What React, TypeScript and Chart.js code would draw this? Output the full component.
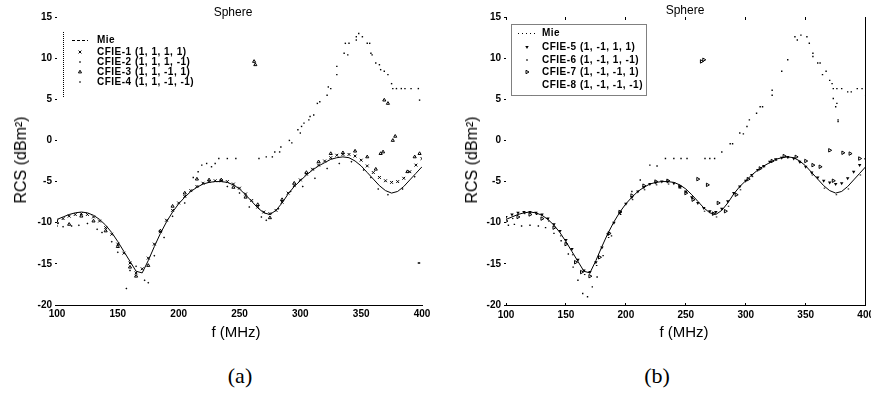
import React, { useEffect, useRef } from 'react';
import { Chart, registerables } from 'chart.js';
import { drawPoint } from 'chart.js/helpers';

Chart.register(...registerables);

// ---------- axes ----------
const X_MIN = 100;
const X_MAX = 400;
const X_STEP = 50;
const Y_MIN = -20;
const Y_MAX = 15;
const Y_STEP = 5;

// ---------- Mie reference (same sphere in both panels) ----------
const sweepFreq = [
  100, 105, 110, 115, 120, 125, 130, 135, 140, 145, 150, 155, 160, 165, 170, 175, 180, 185, 190, 195,
  200, 205, 210, 215, 220, 225, 230, 235, 240, 245, 250, 255, 260, 265, 270, 275, 280, 285, 290, 295,
  300, 305, 310, 315, 320, 325, 330, 335, 340, 345, 350, 355, 360, 365, 370, 375, 380, 385, 390, 395, 400,
];
const mieRcs = [
  -9.6, -9.3, -9.0, -8.8, -8.7, -8.8, -9.1, -9.6, -10.3, -11.2, -12.3, -13.5, -14.7, -15.9, -16.1, -14.6, -12.9, -11.3, -9.9, -8.7,
  -7.7, -6.9, -6.2, -5.7, -5.3, -5.1, -5.0, -5.0, -5.1, -5.4, -5.9, -6.6, -7.4, -8.2, -8.8, -9.0, -8.5, -7.6, -6.5, -5.6,
  -4.9, -4.2, -3.6, -3.1, -2.7, -2.3, -2.1, -2.0, -2.1, -2.5, -3.1, -3.9, -4.7, -5.5, -6.1, -6.4, -6.2, -5.6, -4.8, -4.0, -3.2,
];

// ---------- panel (a) ----------
const cfie1Rcs = [
  -9.8, -9.5, -9.2, -9.0, -8.9, -9.0, -9.3, -9.8, -10.6, -11.4, -12.6, -13.7, -14.9, -16.1, -15.6, -14.3, -12.6, -11.1, -9.7, -8.5,
  -7.6, -6.8, -6.1, -5.6, -5.2, -5.0, -4.9, -4.9, -5.0, -5.3, -5.8, -6.5, -7.3, -8.1, -8.7, -8.9, -8.5, -7.5, -6.4, -5.5,
  -4.8, -4.1, -3.5, -3.0, -2.5, -2.1, -1.8, -1.7, -1.7, -1.9, -2.4, -3.1, -3.9, -4.5, -4.9, -5.1, -5.0, -4.6, -3.8, -3.0, -2.2,
];

const cfie2Freq = [
  212, 216, 219, 223, 227, 230, 233, 240, 247, 266, 272, 277, 279, 283, 284, 291, 293, 298, 300, 301,
  303, 307, 308, 311, 314, 316, 322, 323, 325, 330, 330, 336, 339, 337, 340, 346, 348, 351, 346, 355,
  357, 358, 359, 362, 365, 366, 369, 372, 375, 376, 379, 383, 386, 391, 397, 398,
];
const cfie2Rcs = [
  -4.5, -3.8, -3.0, -2.8, -3.2, -2.8, -2.2, -2.2, -2.2, -2.2, -2.0, -2.0, -1.4, -1.4, -0.8, 0.0, -0.3, 1.3, 0.9, 1.7,
  2.1, 2.5, 2.9, 3.1, 4.5, 4.7, 5.5, 6.5, 6.3, 8.0, 9.0, 10.6, 10.4, 11.8, 11.8, 12.6, 13.0, 12.6, 12.2, 11.8,
  11.8, 10.6, 10.4, 9.4, 9.2, 8.6, 8.4, 8.0, 6.9, 6.3, 6.3, 6.3, 6.3, 6.3, 6.3, 4.9,
];

const cfie3Freq = [
  100, 110, 120, 130, 140, 150, 160, 165, 175, 185, 195, 205, 215, 225, 235, 245, 255, 262, 263, 265,
  275, 285, 295, 305, 315, 325, 335, 345, 355, 362, 366, 368, 369, 372, 376, 378, 388, 394, 398,
];
const cfie3Rcs = [
  -10.0, -10.2, -9.2, -9.8, -11.0, -12.9, -15.4, -16.5, -15.2, -11.0, -8.0, -6.4, -4.7, -4.8, -4.8, -5.7, -6.9, 9.6, 9.2, -7.8,
  -9.4, -7.2, -5.2, -3.9, -2.6, -1.6, -1.5, -1.3, -2.0, -3.5, -1.6, -1.4, 4.9, 4.5, 0.0, 0.5, -3.8, -2.0, -1.6,
];

const cfie4Freq = [
  100, 105, 112, 118, 125, 133, 137, 145, 150, 157, 160, 165, 172, 175, 180, 188, 195, 205, 240, 250,
  258, 268, 272, 282, 292, 302, 312, 322, 332, 342, 352, 358, 364, 372, 384, 394, 397, 398,
];
const cfie4Rcs = [
  -10.4, -10.5, -10.4, -10.3, -10.1, -10.8, -11.2, -12.3, -13.6, -18.0, -15.8, -15.3, -17.0, -17.3, -14.0, -11.8, -9.2, -7.6, -5.6, -6.4,
  -8.1, -9.3, -9.7, -8.3, -6.2, -5.6, -4.6, -3.4, -2.8, -2.6, -3.6, -4.5, -5.9, -6.6, -5.9, -4.4, -14.9, -14.9,
];

// ---------- panel (b) ----------
const cfie5Rcs = [
  -9.3, -9.0, -8.8, -8.7, -8.7, -8.8, -9.0, -9.5, -10.2, -11.0, -12.1, -13.2, -14.5, -15.8, -16.0, -14.8, -13.0, -11.4, -10.0, -8.8,
  -7.7, -6.9, -6.2, -5.7, -5.3, -5.1, -5.0, -5.0, -5.2, -5.6, -6.2, -6.9, -7.6, -8.2, -8.6, -8.7, -8.3, -7.4, -6.4, -5.6,
  -4.9, -4.2, -3.6, -3.1, -2.6, -2.3, -2.1, -2.0, -2.2, -2.6, -3.2, -3.9, -4.5, -4.9, -5.1, -5.3, -5.2, -4.6, -3.8, -3.0, -2.3,
];

const cfie6Freq = [
  102, 107, 113, 120, 127, 133, 140, 146, 152, 156, 160, 164, 168, 172, 176, 181, 188, 196, 205, 212,
  220, 226, 233, 240, 246, 251, 266, 270, 274, 280, 287, 289, 295, 298, 301, 303, 309, 312, 314, 322,
  322, 330, 335, 341, 343, 346, 351, 353, 356, 356, 360, 362, 364, 367, 370, 372, 373, 376, 380, 385,
  388, 393, 397, 400, 373, 375, 376, 377, 377,
];
const cfie6Rcs = [
  -10.3, -10.2, -10.4, -10.3, -10.4, -10.6, -11.3, -12.2, -13.8, -15.4, -17.0, -18.6, -19.0, -17.8, -16.6, -14.0, -11.6, -8.6, -6.2, -4.8,
  -3.0, -3.1, -2.2, -2.2, -2.2, -2.2, -2.2, -2.2, -2.2, -1.4, -0.4, -0.4, 0.9, 0.8, 1.7, 2.5, 3.3, 4.1, 4.1, 6.1,
  5.5, 8.4, 9.8, 12.6, 12.2, 12.8, 12.6, 11.8, 10.6, 10.2, 9.4, 9.4, 8.0, 8.4, 7.3, 6.9, 6.3, 6.3, 6.3, 5.9,
  5.9, 6.3, 6.3, 5.5, 5.1, 4.1, 4.5, 2.5, 2.3,
];

const cfie7Freq = [
  100, 110, 120, 130, 140, 150, 158, 163, 170, 178, 186, 195, 205, 215, 225, 235, 245, 250, 256, 260,
  263, 265, 268, 273, 277, 283, 292, 302, 312, 322, 332, 342, 350, 356, 362, 370, 373, 381, 387, 395,
];
const cfie7Rcs = [
  -9.8, -9.3, -9.0, -9.5, -10.6, -12.6, -14.8, -16.0, -16.5, -14.2, -11.3, -8.7, -6.7, -5.5, -5.0, -4.9, -5.6, -6.4, -7.2, -4.7,
  9.6, 9.8, -5.4, -8.9, -7.6, -8.6, -6.6, -4.7, -3.4, -2.5, -1.9, -2.0, -2.5, -3.0, -3.2, -1.2, -4.9, -1.5, -1.6, -2.2,
];

const cfie8Freq = [
  105, 115, 125, 135, 145, 155, 165, 175, 185, 195, 205, 215, 225, 235, 245, 255, 265, 275, 285, 295,
  305, 315, 325, 335, 345, 355, 365, 375, 385, 395,
];
const cfie8Rcs = [
  -9.5, -8.9, -9.0, -9.8, -11.6, -13.9, -16.3, -15.2, -11.8, -9.0, -7.2, -6.0, -5.4, -5.3, -5.8, -7.0, -8.6, -9.3, -8.0, -6.0,
  -4.4, -3.2, -2.4, -2.1, -2.7, -4.2, -5.8, -6.6, -5.9, -4.2,
];

// ---------- text ----------
const TITLE = 'Sphere';
const X_TITLE = 'f (MHz)';
const Y_TITLE = 'RCS (dBm²)';
const LABELS_A = ['Mie', 'CFIE-1 (1, 1, 1, 1)', 'CFIE-2 (1, 1, 1, -1)', 'CFIE-3 (1, 1, -1, 1)', 'CFIE-4 (1, 1, -1, -1)'];
const LABELS_B = ['Mie', 'CFIE-5 (1, -1, 1, 1)', 'CFIE-6 (1, -1, 1, -1)', 'CFIE-7 (1, -1, -1, 1)', 'CFIE-8 (1, -1, -1, -1)'];

const pts = (xs: number[], ys: number[]) => xs.map((x, i) => ({ x, y: ys[i] }));

const FONT = "'Liberation Sans', Arial, sans-serif";
const INK = '#000';

const legendPlugin = {
  id: 'panelLegend',
  afterDraw(chart: any, _args: any, o: any) {
    if (!o || !o.rows) return;
    const ctx = chart.ctx as CanvasRenderingContext2D;
    ctx.save();
    ctx.strokeStyle = INK;
    ctx.fillStyle = INK;
    ctx.lineWidth = 1;
    if (o.frame === 'box') {
      ctx.setLineDash([1, 1]);
      ctx.strokeRect(o.boxX + 0.5, o.boxY + 0.5, o.boxW, o.boxH);
    } else {
      ctx.setLineDash([1, 1]);
      ctx.beginPath();
      ctx.moveTo(o.frameX + 0.5, o.frameTop);
      ctx.lineTo(o.frameX + 0.5, o.frameBottom);
      ctx.stroke();
    }
    ctx.font = `bold 10px ${FONT}`;
    (ctx as any).letterSpacing = '0.5px';
    ctx.textBaseline = 'middle';
    chart.data.datasets.forEach((ds: any, i: number) => {
      const y = o.rows[i];
      if (ds.showLine) {
        ctx.setLineDash(o.mieDash);
        ctx.beginPath();
        ctx.moveTo(o.lineX0, y + 0.5);
        ctx.lineTo(o.lineX1, y + 0.5);
        ctx.stroke();
      } else if (!ds.hideLegendMarker) {
        ctx.setLineDash([]);
        ctx.fillStyle = ds.backgroundColor || INK;
        ctx.strokeStyle = ds.borderColor || INK;
        drawPoint(ctx, {
          pointStyle: ds.pointStyle,
          radius: ds.pointRadius,
          rotation: ds.rotation || 0,
          borderWidth: ds.borderWidth ?? 1,
        } as any, o.markerX, y);
      }
      ctx.fillStyle = INK;
      ctx.fillText(ds.label, o.textX, y);
    });
    ctx.restore();
  },
};

function makeScales(framed: boolean, yWidth: number) {
  const tickFont = { family: FONT, size: 10, weight: 'bold' as const };
  const scales: any = {
    x: {
      type: 'linear',
      position: 'bottom',
      min: X_MIN,
      max: X_MAX,
      afterFit: (s: any) => { s.height = 40; },
      ticks: { stepSize: X_STEP, font: tickFont, color: INK, padding: framed ? 6 : 3, maxRotation: 0, autoSkip: false },
      grid: { display: true, drawOnChartArea: false, drawTicks: framed, tickLength: framed ? -2 : 0, color: INK },
      border: { display: true, color: INK, dash: [1, 1], width: 1 },
    },
    y: {
      type: 'linear',
      position: 'left',
      min: Y_MIN,
      max: Y_MAX,
      afterFit: (s: any) => { s.width = yWidth; },
      ticks: { stepSize: Y_STEP, font: tickFont, color: INK, padding: 3 },
      grid: { display: true, drawOnChartArea: false, drawTicks: true, tickLength: 2, color: INK },
      border: { display: false },
    },
  };
  if (framed) {
    scales.xTop = {
      type: 'linear',
      position: 'top',
      display: true,
      min: X_MIN,
      max: X_MAX,
      afterFit: (s: any) => { s.height = 0; },
      ticks: { stepSize: X_STEP, display: false },
      grid: { display: true, drawOnChartArea: false, drawTicks: true, tickLength: -3, color: INK },
      border: { display: false },
    };
    scales.yRight = {
      type: 'linear',
      position: 'right',
      display: true,
      min: Y_MIN,
      max: Y_MAX,
      afterFit: (s: any) => { s.width = 0; },
      ticks: { stepSize: Y_STEP, display: false },
      grid: { display: true, drawOnChartArea: false, drawTicks: false, color: INK },
      border: { display: true, color: INK, dash: [1, 1], width: 1 },
    };
  }
  return scales;
}

const mieDataset = (label: string) => ({
  label,
  data: pts(sweepFreq, mieRcs),
  showLine: true,
  borderColor: INK,
  borderWidth: 1,
  pointRadius: 0,
  tension: 0,
});

const marker = (label: string, data: any[], style: any, radius: number, filled: boolean, rotation = 0, extra: any = {}) => ({
  label,
  data,
  showLine: false,
  pointStyle: style,
  pointRadius: radius,
  rotation,
  pointRotation: rotation,
  borderColor: INK,
  backgroundColor: filled ? INK : 'rgba(0,0,0,0)',
  borderWidth: filled ? 0 : 1,
  ...extra,
});

function datasetsA() {
  return [
    mieDataset(LABELS_A[0]),
    marker(LABELS_A[1], pts(sweepFreq, cfie1Rcs), 'crossRot', 2, false),
    marker(LABELS_A[2], pts(cfie2Freq, cfie2Rcs), 'rect', 1, true),
    marker(LABELS_A[3], pts(cfie3Freq, cfie3Rcs), 'triangle', 1.8, false),
    marker(LABELS_A[4], pts(cfie4Freq, cfie4Rcs), 'rectRot', 1, true),
  ];
}

function datasetsB() {
  return [
    mieDataset(LABELS_B[0]),
    marker(LABELS_B[1], pts(sweepFreq, cfie5Rcs), 'triangle', 2, true, 180),
    marker(LABELS_B[2], pts(cfie6Freq, cfie6Rcs), 'rect', 1, true),
    marker(LABELS_B[3], pts(cfie7Freq, cfie7Rcs), 'triangle', 2, false, 90),
    marker(LABELS_B[4], pts(cfie8Freq, cfie8Rcs), 'dash', 1.5, false, 0, { hideLegendMarker: true }),
  ];
}

const LEGEND_A = {
  frame: 'left', frameX: 63, frameTop: 32, frameBottom: 97,
  rows: [40, 52, 62, 72, 82], lineX0: 72, lineX1: 88, markerX: 80, textX: 97, mieDash: [3, 2],
};
const LEGEND_B = {
  frame: 'box', boxX: 71, boxY: 24, boxW: 135, boxH: 71,
  rows: [33, 47, 60, 72, 85], lineX0: 78, lineX1: 95, markerX: 87, textX: 102, mieDash: [1, 3],
};

function Panel(props: { left: number; width: number; yWidth: number; framed: boolean; which: 'a' | 'b' }) {
  const ref = useRef<HTMLCanvasElement | null>(null);
  useEffect(() => {
    if (!ref.current) return;
    const chart = new Chart(ref.current, {
      type: 'scatter',
      data: { datasets: (props.which === 'a' ? datasetsA() : datasetsB()) as any },
      options: {
        responsive: false,
        animation: false,
        devicePixelRatio: 1,
        layout: { padding: { top: 17, right: 14, left: 0, bottom: 0 } },
        scales: makeScales(props.framed, props.yWidth),
        plugins: {
          legend: { display: false },
          tooltip: { enabled: false },
          title: { display: false },
          panelLegend: props.which === 'a' ? LEGEND_A : LEGEND_B,
        } as any,
      },
      plugins: [legendPlugin as any],
    });
    return () => chart.destroy();
  }, []);
  return (
    <canvas
      ref={ref}
      width={props.width}
      height={345}
      style={{ position: 'absolute', left: props.left, top: 0, width: props.width, height: 345 }}
    />
  );
}

function Txt(props: { x: number; y: number; size: number; rotate?: boolean; serif?: boolean; children: any }) {
  return (
    <div
      style={{
        position: 'absolute',
        left: props.x,
        top: props.y,
        transform: `translate(-50%, -50%)${props.rotate ? ' rotate(-90deg)' : ''}`,
        fontFamily: props.serif ? "'Liberation Serif', 'DejaVu Serif', serif" : FONT,
        fontSize: props.size,
        color: INK,
        whiteSpace: 'nowrap',
        lineHeight: 1,
      }}
    >
      {props.children}
    </div>
  );
}

export default function App() {
  return (
    <div style={{ position: 'absolute', left: 0, top: 0, width: 871, height: 395, overflow: 'hidden', background: '#fff' }}>
      <Panel left={0} width={436} yWidth={57} framed={false} which="a" />
      <Panel left={440} width={440} yWidth={66} framed={true} which="b" />
      <Txt x={233} y={12} size={12}>{TITLE}</Txt>
      <Txt x={685} y={10} size={12}>{TITLE}</Txt>
      <Txt x={236} y={331} size={15}>{X_TITLE}</Txt>
      <Txt x={684} y={331} size={15}>{X_TITLE}</Txt>
      <Txt x={21} y={160} size={16} rotate>{Y_TITLE}</Txt>
      <Txt x={472} y={160} size={16} rotate>{Y_TITLE}</Txt>
      <Txt x={240} y={376} size={22} serif>(a)</Txt>
      <Txt x={657} y={376} size={22} serif>(b)</Txt>
    </div>
  );
}
